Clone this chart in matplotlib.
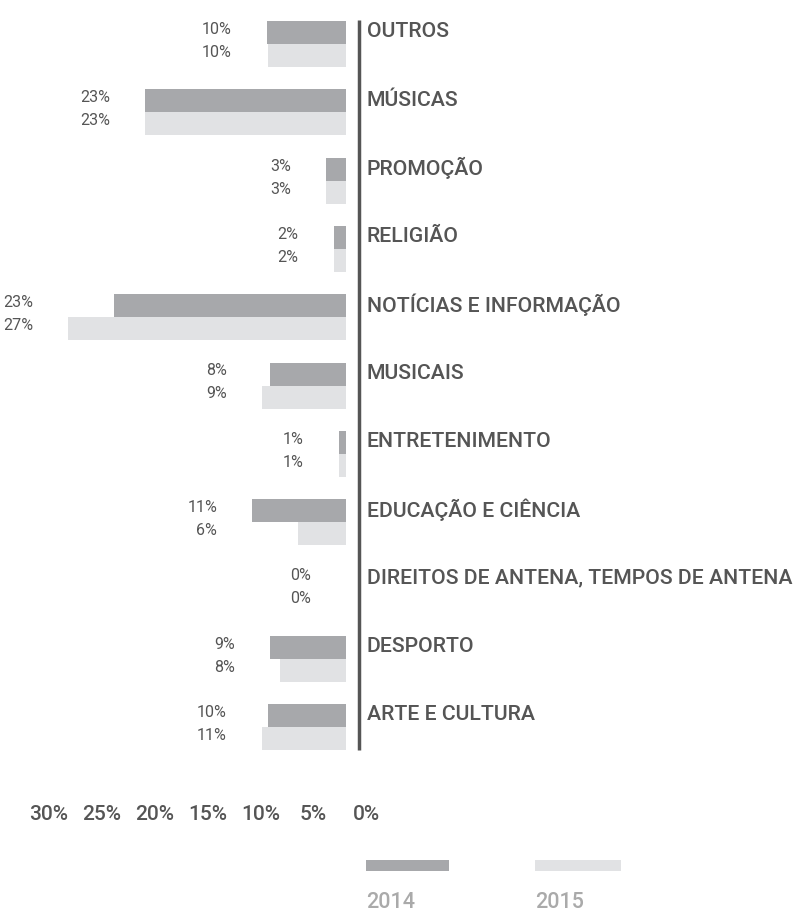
import numpy as np
import matplotlib.pyplot as plt
from matplotlib.patches import Rectangle

plt.rcParams['font.family'] = ['Roboto', 'DejaVu Sans']

categories = ['OUTROS', 'MÚSICAS', 'PROMOÇÃO', 'RELIGIÃO', 'NOTÍCIAS E INFORMAÇÃO',
              'MUSICAIS', 'ENTRETENIMENTO', 'EDUCAÇÃO E CIÊNCIA',
              'DIREITOS DE ANTENA, TEMPOS DE ANTENA', 'DESPORTO', 'ARTE E CULTURA']
# bar lengths as drawn (in %)
v2014 = [7.7, 19.5, 1.9, 1.2, 22.5, 7.4, 0.7, 9.1, 0.0, 7.4, 7.6]
v2015 = [7.6, 19.5, 1.9, 1.2, 27.0, 8.2, 0.7, 4.7, 0.0, 6.4, 8.2]
# printed labels
lab2014 = ['10%', '23%', '3%', '2%', '23%', '8%', '1%', '11%', '0%', '9%', '10%']
lab2015 = ['10%', '23%', '3%', '2%', '27%', '9%', '1%', '6%', '0%', '8%', '11%']
ticks = [0, 5, 10, 15, 20, 25, 30]
years = ['2014', '2015']

c14 = '#a7a8ab'
c15 = '#e1e2e4'
txt = '#555555'

W, H = 795, 911
fig = plt.figure(figsize=(W / 100, H / 100), dpi=100)

# layout (pixels)
base_x = 346      # where bars start
s = 10.3          # px per %
y0 = 44           # centre of first category
step = 68.3       # px between categories
bh = 23 / step

ax = fig.add_axes([0, 0, 1, 1])
ax.set_xlim(base_x / s, -(W - base_x) / s)
ax.set_ylim((H - y0) / step, -y0 / step)
ax.axis('off')

y = np.arange(len(categories))
ax.barh(y - bh / 2, v2014, height=bh, color=c14)
ax.barh(y + bh / 2, v2015, height=bh, color=c15)

gap = 35 / s
for i in range(len(categories)):
    xm = max(v2014[i], v2015[i]) + gap
    ax.text(xm, y[i] - bh / 2 - 0.045, lab2014[i], ha='right', va='center',
            fontsize=11.5, color=txt)
    ax.text(xm, y[i] + bh / 2 - 0.045, lab2015[i], ha='right', va='center',
            fontsize=11.5, color=txt)
    ax.text(-21 / s, y[i] - bh / 2 - 0.01, categories[i], ha='left', va='center',
            fontsize=15.3, color=txt, fontweight='medium')

ax.plot([-13 / s, -13 / s], [-0.35, len(categories) - 1 + 0.34], color=txt, lw=2.5,
        solid_capstyle='butt')

# tick row
ax2 = fig.add_axes([49 / W, (H - 805) / H, (366 - 49) / W, 0.0001])
ax2.set_xlim(30, 0)
ax2.set_xticks(ticks)
ax2.set_xticklabels([f'{t}%' for t in ticks], fontsize=15, color=txt,
                    fontweight='medium')
ax2.tick_params(length=0, pad=0)
ax2.set_yticks([])
for sp in ax2.spines.values():
    sp.set_visible(False)

# legend
for k, (yr, col) in enumerate(zip(years, [c14, c15])):
    x = [366, 535][k]
    fig.add_artist(Rectangle((x / W, (H - 871) / H), [83, 86][k] / W, 11 / H,
                             transform=fig.transFigure, color=col, lw=0))
    fig.text(x / W, (H - 902) / H, yr, ha='left', va='center', fontsize=15.5,
             color='#aaaaaa', fontweight='medium')

fig.savefig('out.png', dpi=100)
